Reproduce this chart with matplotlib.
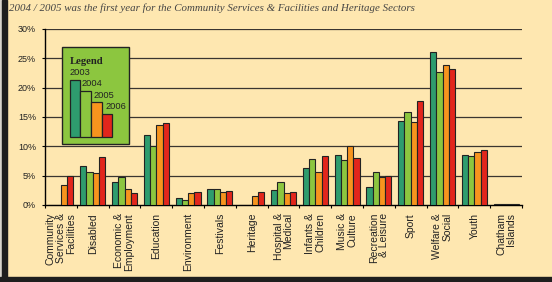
import matplotlib.pyplot as plt
from matplotlib.patches import Rectangle
import numpy as np

W, H = 552, 282

categories = ["Community\nServices &\nFacilities", "Disabled", "Economic &\nEmployment",
              "Education", "Environment", "Festivals", "Heritage", "Hospital &\nMedical",
              "Infants &\nChildren", "Music &\nCulture", "Recreation\n& Leisure", "Sport",
              "Welfare &\nSocial", "Youth", "Chatham\nIslands"]
years = ["2003", "2004", "2005", "2006"]
v2003 = [0.0, 6.6, 4.0, 12.0, 1.25, 2.7, 0.0, 2.5, 6.25, 8.5, 3.0, 14.3, 26.0, 8.6, 0.1]
v2004 = [0.0, 5.7, 4.8, 10.0, 0.8, 2.7, 0.0, 3.9, 7.8, 7.6, 5.7, 15.8, 22.7, 8.3, 0.1]
v2005 = [3.4, 5.5, 2.7, 13.6, 2.0, 2.3, 1.5, 2.0, 5.6, 10.0, 4.7, 14.1, 23.9, 9.0, 0.1]
v2006 = [5.0, 8.2, 2.1, 13.9, 2.2, 2.4, 2.3, 2.3, 8.3, 8.0, 5.0, 17.7, 23.2, 9.3, 0.1]
series = [v2003, v2004, v2005, v2006]
colors = ["#2E9C6E", "#8CC63F", "#F7941E", "#E2261C"]
yticks = [0, 5, 10, 15, 20, 25, 30]

bg = "#FEE7B0"
fig = plt.figure(figsize=(W / 100, H / 100), dpi=100, facecolor=bg)

def fx(x):
    return x / W

def fy(y):
    return 1 - y / H

# frame strips (left and bottom)
fig.patches.append(Rectangle((0, 0), fx(2), 1, transform=fig.transFigure, color="#d8d4cc", zorder=0))
fig.patches.append(Rectangle((fx(2), 0), fx(5), 1, transform=fig.transFigure, color="#1e1e1e", zorder=0))
fig.patches.append(Rectangle((0, 0), 1, 5 / H, transform=fig.transFigure, color="#1e1e1e", zorder=0))

fig.text(fx(9), fy(8), "2004 / 2005 was the first year for the Community Services & Facilities and Heritage Sectors",
         family="Liberation Serif", style="italic", fontsize=7.8, color="#444444", va="center", ha="left")

ax = fig.add_axes([fx(45), fy(205), fx(522) - fx(45), fy(29) - fy(205)])
ax.set_facecolor(bg)
x = np.arange(len(categories))
w = 0.195
for i, (vals, c) in enumerate(zip(series, colors)):
    ax.bar(x + (i - 1.5) * w, vals, w, color=c, edgecolor="#222222", linewidth=0.8, zorder=3)

ax.set_xlim(-0.5, len(categories) - 0.5)
ax.set_ylim(0, 30)
ax.set_yticks(yticks)
ax.set_yticklabels([f"{t}%" for t in yticks], family="Liberation Sans", fontsize=6.5, color="#222222")
for t in yticks[1:]:
    ax.axhline(t, color="#3a3530", linewidth=0.9, zorder=1)
ax.set_xticks(np.arange(len(categories) + 1) - 0.5)
ax.set_xticklabels([])
ax.tick_params(axis="y", length=2.5, width=0.8, pad=4)
ax.tick_params(axis="x", length=2, width=0.8, direction="out")
for s in ["top", "right"]:
    ax.spines[s].set_visible(False)
ax.spines["left"].set_linewidth(1.0)
ax.spines["bottom"].set_linewidth(1.0)

for xi, lab in zip(x, categories):
    ax.text(xi, -0.045, lab, transform=ax.get_xaxis_transform(), rotation=90, ha="center", va="top",
            multialignment="right", family="Liberation Sans", fontsize=7.5, linespacing=1.0, color="#222222")

# legend artwork
fig.patches.append(Rectangle((fx(62), fy(144)), fx(129) - fx(62), fy(47) - fy(144), transform=fig.transFigure,
                             facecolor="#8CC63F", edgecolor="#222222", linewidth=1.0, zorder=5))
bars = [(70, 80, 80), (80, 91, 91), (91, 102, 102), (102, 112, 114)]
for (x0, x1, top), c in zip(bars, colors):
    fig.patches.append(Rectangle((fx(x0), fy(137)), fx(x1) - fx(x0), fy(top) - fy(137), transform=fig.transFigure,
                                 facecolor=c, edgecolor="#222222", linewidth=0.9, zorder=6))
fig.text(fx(70), fy(61.5), "Legend", family="Liberation Serif", weight="bold", fontsize=7.7,
         color="#222222", va="center", ha="left", zorder=7)
label_pos = [(70, 72.5), (82, 83.5), (94, 95), (106, 106.5)]
for (lx, ly), yr in zip(label_pos, years):
    fig.text(fx(lx), fy(ly), yr, family="Liberation Sans", fontsize=6.7, color="#222222",
             va="center", ha="left", zorder=7)

fig.savefig("out.png", dpi=100, facecolor=bg)
